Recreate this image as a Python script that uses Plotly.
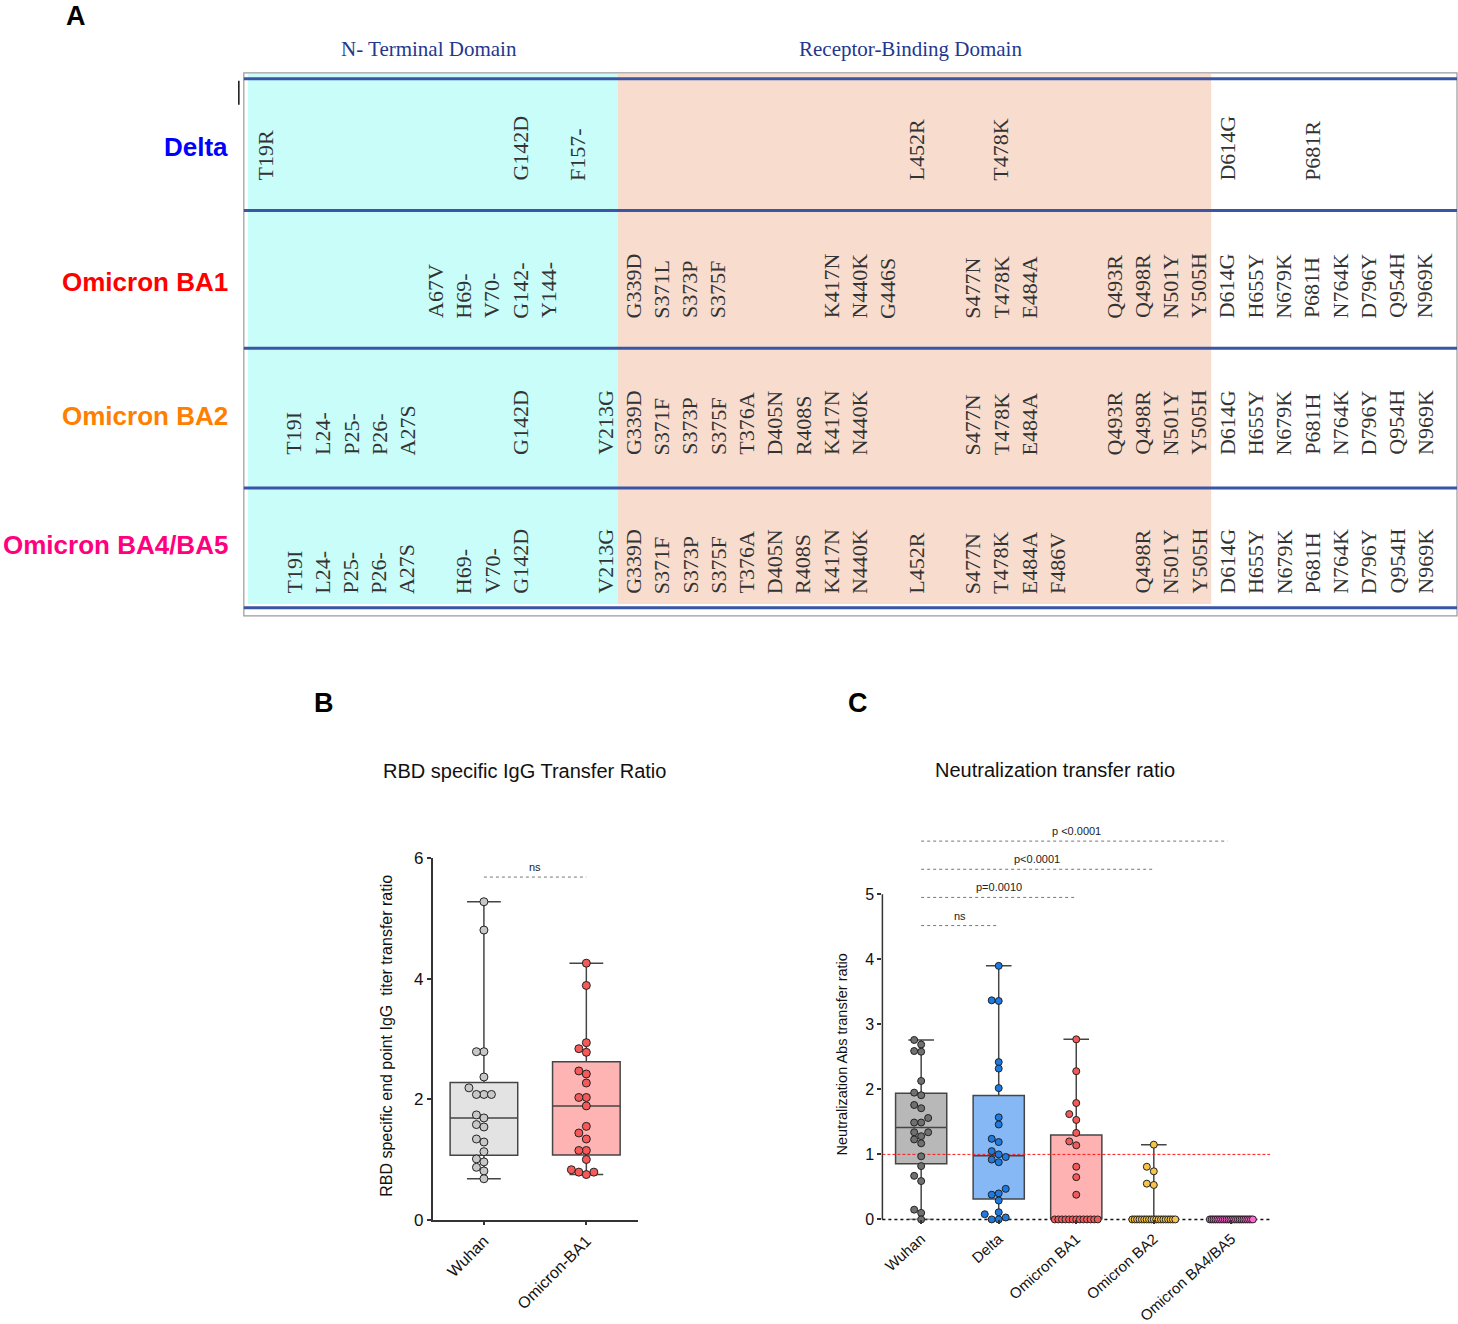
import re
import numpy as np
import plotly.graph_objects as go

W, H = 1458, 1324

# ---------------- Panel A data ----------------
VARIANTS = ["Delta", "Omicron BA1", "Omicron BA2", "Omicron BA4/BA5"]
VARIANT_COLORS = ["#0000ff", "#ff0000", "#ff8000", "#ff007f"]
DOMAINS = ["N- Terminal Domain", "Receptor-Binding Domain"]

MUT_DELTA = ["T19R", "G142D", "F157-", "L452R", "T478K", "D614G", "P681R"]
MUT_BA1 = ["A67V", "H69-", "V70-", "G142-", "Y144-",
           "G339D", "S371L", "S373P", "S375F", "K417N", "N440K", "G446S",
           "S477N", "T478K", "E484A", "Q493R", "Q498R", "N501Y", "Y505H",
           "D614G", "H655Y", "N679K", "P681H", "N764K", "D796Y", "Q954H", "N969K"]
MUT_BA2 = ["T19I", "L24-", "P25-", "P26-", "A27S", "G142D", "V213G",
           "G339D", "S371F", "S373P", "S375F", "T376A", "D405N", "R408S", "K417N", "N440K",
           "S477N", "T478K", "E484A", "Q493R", "Q498R", "N501Y", "Y505H",
           "D614G", "H655Y", "N679K", "P681H", "N764K", "D796Y", "Q954H", "N969K"]
MUT_BA45 = ["T19I", "L24-", "P25-", "P26-", "A27S", "H69-", "V70-", "G142D", "V213G",
            "G339D", "S371F", "S373P", "S375F", "T376A", "D405N", "R408S", "K417N", "N440K",
            "L452R", "S477N", "T478K", "E484A", "F486V", "Q498R", "N501Y", "Y505H",
            "D614G", "H655Y", "N679K", "P681H", "N764K", "D796Y", "Q954H", "N969K"]
MUTATIONS = [MUT_DELTA, MUT_BA1, MUT_BA2, MUT_BA45]

# table column slots (residue keys), in table order
SLOT_KEYS = ["T19R", "19", "24", "25", "26", "27", "67", "69", "70", "142", "144", "157", "213",
             "339", "371", "373", "375", "376", "405", "408", "417", "440", "446", "452", "",
             "477", "478", "484", "486", "", "493", "498", "501", "505",
             "614", "655", "679", "681", "764", "796", "954", "969"]

# ---------------- Panel B data ----------------
B_TITLE = "RBD specific IgG Transfer Ratio"
B_YTITLE = "RBD specific end point IgG  titer transfer ratio"
B_CATS = ["Wuhan", "Omicron-BA1"]
B_WUHAN = [5.28, 4.81, 2.79, 2.79, 2.37, 2.19, 2.08, 2.08, 2.08, 1.74, 1.69,
           1.58, 1.54, 1.34, 1.29, 1.13, 1.01, 0.96, 0.87, 0.81, 0.68]
B_BA1 = [4.26, 3.89, 2.94, 2.84, 2.78, 2.47, 2.42, 2.27, 2.03, 2.03, 1.89,
         1.55, 1.44, 1.34, 1.15, 1.15, 1.00, 0.83, 0.79, 0.79, 0.75]
B_TICKS = [0, 2, 4, 6]
B_TESTS = [("Wuhan", "Omicron-BA1", "ns")]

# ---------------- Panel C data ----------------
C_TITLE = "Neutralization transfer ratio"
C_YTITLE = "Neutralization Abs transfer ratio"
C_CATS = ["Wuhan", "Delta", "Omicron BA1", "Omicron BA2", "Omicron BA4/BA5"]
C_WUHAN = [2.76, 2.69, 2.59, 2.58, 2.13, 1.95, 1.91, 1.76, 1.71, 1.56, 1.49, 1.49,
           1.34, 1.34, 1.28, 1.23, 1.17, 0.97, 0.82, 0.67, 0.59, 0.15, 0.10, 0.00]
C_DELTA = [3.90, 3.37, 3.36, 2.42, 2.32, 2.02, 1.57, 1.46, 1.24, 1.19, 1.05, 1.00,
           0.96, 0.92, 0.88, 0.47, 0.40, 0.38, 0.29, 0.11, 0.08, 0.03, 0.00, 0.00]
C_BA1 = [2.77, 2.28, 1.79, 1.62, 1.53, 1.33, 1.20, 1.14, 0.81, 0.65, 0.38,
         0.00, 0.00, 0.00, 0.00, 0.00, 0.00, 0.00, 0.00, 0.00, 0.00, 0.00, 0.00, 0.00]
C_BA2 = [1.15, 0.81, 0.74, 0.55, 0.53,
         0.00, 0.00, 0.00, 0.00, 0.00, 0.00, 0.00, 0.00, 0.00, 0.00,
         0.00, 0.00, 0.00, 0.00, 0.00, 0.00, 0.00, 0.00, 0.00]
C_BA45 = [0.00, 0.00, 0.00, 0.00, 0.00, 0.00, 0.00, 0.00, 0.00, 0.00, 0.00, 0.00,
          0.00, 0.00, 0.00, 0.00, 0.00, 0.00, 0.00, 0.00, 0.00, 0.00, 0.00, 0.00]
C_TICKS = [0, 1, 2, 3, 4, 5]
C_THRESHOLD = 1.0
C_TESTS = [("Wuhan", "Delta", "ns"), ("Wuhan", "Omicron BA1", "p=0.0010"),
           ("Wuhan", "Omicron BA2", "p<0.0001"), ("Wuhan", "Omicron BA4/BA5", "p <0.0001")]

# ---------------- styling / layout ----------------
SANS = "Liberation Sans, Arial, sans-serif"
SERIF = "Liberation Serif, Times New Roman, serif"
BOX_LINE = "#454545"
B_FILL = ["#e3e3e3", "#ffb4b4"]
B_DOT = ["#c8c8c8", "#f45a5a"]
C_FILL = ["#b8b8b8", "#85b8f5", "#ffb2b2", "#ffd88a", "#ffa8e6"]
C_DOT = ["#707070", "#1f7ae0", "#f25a5a", "#f7c44a", "#ff66d2"]

# vertical calibration of the capture (observed offset / scale of the rendered page)
YOFF, YSCALE = 8.0, 0.986


def PX(x):
    return x / W


def PY(y):
    return 1 - ((y - YOFF) / YSCALE) / H


B_XDOM = [PX(432), PX(637)]
B_YDOM = [PY(1221), PY(859)]
B_YMAX = 6.0
C_XDOM = [PX(882), PX(1270)]
C_YDOM = [PY(1220.7), PY(829.9)]
C_YMAX = 6.0
BOX_W = 0.66


def stats(v):
    a = np.sort(np.asarray(v, float))
    q1, med, q3 = np.percentile(a, [25, 50, 75], method="weibull")
    return q1, med, q3, a.min(), a.max()


def swarm(vals, ypx, xpx, d, tie_span):
    vals = np.asarray(vals, float)
    n = len(vals)
    offs = np.zeros(n)
    placed = []
    done = np.zeros(n, bool)
    uniq, counts = np.unique(vals, return_counts=True)
    for u, c in zip(uniq, counts):
        if c >= 5:
            idx = np.where(vals == u)[0]
            span = min((c - 1) * d, tie_span)
            pos = np.linspace(-span / 2, span / 2, c)
            for i, p in zip(idx, pos):
                offs[i] = p
                placed.append((p, u * ypx))
                done[i] = True
    cands = [0.0]
    for m in range(1, 12):
        cands += [-m * d, m * d]
    for i in np.argsort(vals, kind="stable"):
        if done[i]:
            continue
        y = vals[i] * ypx
        chosen = cands[-1]
        for c in cands:
            if all((c - px) ** 2 + (y - py) ** 2 >= (0.92 * d) ** 2 for px, py in placed):
                chosen = c
                break
        offs[i] = chosen
        placed.append((chosen, y))
    return offs / xpx


fig = go.Figure()

# ---------------- Panel B traces ----------------
b_xpx = (637 - 432) / len(B_CATS)
b_ypx = (1221 - 859) / B_YMAX
for i, vals in enumerate([B_WUHAN, B_BA1]):
    q1, med, q3, mn, mx = stats(vals)
    fig.add_trace(go.Box(x=[i], q1=[q1], median=[med], q3=[q3], lowerfence=[mn], upperfence=[mx],
                         orientation="v", width=BOX_W, whiskerwidth=0.5, fillcolor=B_FILL[i],
                         line=dict(color=BOX_LINE, width=1.5), boxpoints=False,
                         xaxis="x", yaxis="y", hoverinfo="skip", showlegend=False))
    offs = swarm(vals, b_ypx, b_xpx, 7.5, 45)
    fig.add_trace(go.Scatter(x=i + offs, y=vals, mode="markers", cliponaxis=False,
                             marker=dict(size=8, color=B_DOT[i], line=dict(color="#222222", width=1)),
                             xaxis="x", yaxis="y", hoverinfo="skip", showlegend=False))

# ---------------- Panel C traces ----------------
c_xpx = (1270 - 882) / len(C_CATS)
c_ypx = (1220.7 - 829.9) / C_YMAX
C_GROUPS = [C_WUHAN, C_DELTA, C_BA1, C_BA2, C_BA45]
for i, vals in enumerate(C_GROUPS):
    q1, med, q3, mn, mx = stats(vals)
    fig.add_trace(go.Box(x=[i], q1=[q1], median=[med], q3=[q3], lowerfence=[mn], upperfence=[mx],
                         orientation="v", width=BOX_W, whiskerwidth=0.5, fillcolor=C_FILL[i],
                         line=dict(color=BOX_LINE, width=1.5), boxpoints=False,
                         xaxis="x2", yaxis="y2", hoverinfo="skip", showlegend=False))
c_range = [-0.5, len(C_CATS) - 0.5]
fig.add_trace(go.Scatter(x=c_range, y=[C_THRESHOLD, C_THRESHOLD], mode="lines",
                         line=dict(color="#ff1a1a", width=1, dash="3px,2px"),
                         xaxis="x2", yaxis="y2", hoverinfo="skip", showlegend=False))
for i, vals in enumerate(C_GROUPS):
    offs = swarm(vals, c_ypx, c_xpx, 7.0, 43)
    fig.add_trace(go.Scatter(x=i + offs, y=vals, mode="markers", cliponaxis=False,
                             marker=dict(size=7, color=C_DOT[i], line=dict(color="#222222", width=1)),
                             xaxis="x2", yaxis="y2", hoverinfo="skip", showlegend=False))

shapes = []
annotations = []

# ---------------- Panel A drawing ----------------
TABLE = dict(left=243, right=1457, top=72, bottom=616)
DOMAIN_SPANS = [(247, 617), (617, 1211)]
DOMAIN_FILLS = ["#c8fdf9", "#f8ddcf"]
ROW_LINES = [78, 210, 348, 488, 608]
ROW_TEXT_BOTTOM = [181, 319, 456, 595]
ROW_LABEL_Y = [146, 282, 416, 545]
COL0, COLSTEP = 265, 28.3

for (x0, x1), col in zip(DOMAIN_SPANS, DOMAIN_FILLS):
    shapes.append(dict(type="rect", xref="paper", yref="paper", x0=PX(x0), x1=PX(x1),
                       y0=PY(73), y1=PY(604), fillcolor=col, line=dict(width=0), layer="below"))
shapes.append(dict(type="rect", xref="paper", yref="paper", x0=PX(TABLE["left"]), x1=PX(TABLE["right"]),
                   y0=PY(TABLE["top"]), y1=PY(TABLE["bottom"]), line=dict(color="#9a9a9a", width=1.2)))
for yl in ROW_LINES:
    shapes.append(dict(type="line", xref="paper", yref="paper", x0=PX(TABLE["left"]), x1=PX(TABLE["right"]),
                       y0=PY(yl), y1=PY(yl), line=dict(color="#3b55a6", width=3)))
shapes.append(dict(type="line", xref="paper", yref="paper", x0=PX(238), x1=PX(238),
                   y0=PY(80), y1=PY(104), line=dict(color="#111111", width=1.5)))

for (x0, x1), name in zip(DOMAIN_SPANS, DOMAINS):
    annotations.append(dict(text=name, xref="paper", yref="paper", x=PX((x0 + x1) / 2 - 4), y=PY(48),
                            showarrow=False, xanchor="center", yanchor="middle",
                            font=dict(family=SERIF, size=21, color="#233790")))


def slot_of(label):
    if label in SLOT_KEYS:
        return SLOT_KEYS.index(label)
    return SLOT_KEYS.index(re.search(r"\d+", label).group())


for r, (muts, name, colr) in enumerate(zip(MUTATIONS, VARIANTS, VARIANT_COLORS)):
    annotations.append(dict(text=name, xref="paper", yref="paper", x=PX(229), y=PY(ROW_LABEL_Y[r]),
                            showarrow=False, xanchor="right", yanchor="middle",
                            font=dict(family=SANS, size=26, color=colr, weight="bold")))
    for m in muts:
        xc = COL0 + COLSTEP * slot_of(m)
        annotations.append(dict(text=m, xref="paper", yref="paper", x=PX(xc), y=PY(ROW_TEXT_BOTTOM[r]),
                                showarrow=False, textangle=-90, xanchor="center", yanchor="bottom",
                                borderpad=0, font=dict(family=SERIF, size=22, color="#333333")))

# panel letters
for letter, (lx, ly) in zip(["A", "B", "C"], [(75, 15), (323, 703), (858, 703)]):
    annotations.append(dict(text=letter, xref="paper", yref="paper", x=PX(lx), y=PY(ly), showarrow=False,
                            xanchor="center", yanchor="middle",
                            font=dict(family=SANS, size=27, color="#000000", weight="bold")))

# titles
annotations.append(dict(text=B_TITLE, xref="paper", yref="paper", x=PX(524), y=PY(771), showarrow=False,
                        xanchor="center", yanchor="middle", font=dict(family=SANS, size=20, color="#111")))
annotations.append(dict(text=C_TITLE, xref="paper", yref="paper", x=PX(1055), y=PY(770), showarrow=False,
                        xanchor="center", yanchor="middle", font=dict(family=SANS, size=20, color="#111")))
annotations.append(dict(text=B_YTITLE, xref="paper", yref="paper", x=PX(385), y=PY(1037), showarrow=False,
                        textangle=-90, xanchor="center", yanchor="middle",
                        font=dict(family=SANS, size=16, color="#111")))
annotations.append(dict(text=C_YTITLE, xref="paper", yref="paper", x=PX(842), y=PY(1055), showarrow=False,
                        textangle=-90, xanchor="center", yanchor="middle",
                        font=dict(family=SANS, size=14.5, color="#111")))

# significance bars
SIG_STYLE = dict(color="#777777", width=1, dash="dot")
for k, (a, b, lab) in enumerate(B_TESTS):
    ia, ib = B_CATS.index(a), B_CATS.index(b)
    h = 5.69 + 0.45 * k
    shapes.append(dict(type="line", xref="x", yref="y", x0=ia, x1=ib, y0=h, y1=h, line=SIG_STYLE))
    annotations.append(dict(text=lab, xref="x", yref="y", x=(ia + ib) / 2, y=h, yanchor="bottom",
                            yshift=2, showarrow=False, font=dict(family=SANS, size=11, color="#222")))
for k, (a, b, lab) in enumerate(C_TESTS):
    ia, ib = C_CATS.index(a), C_CATS.index(b)
    h = 4.52 + 0.433 * k
    shapes.append(dict(type="line", xref="x2", yref="y2", x0=ia, x1=ib - 0.05 * (ib == len(C_CATS) - 1),
                       y0=h, y1=h, line=SIG_STYLE))
    annotations.append(dict(text=lab, xref="x2", yref="y2", x=(ia + ib) / 2, y=h, yanchor="bottom",
                            yshift=2, showarrow=False, font=dict(family=SANS, size=11, color="#222")))

# panel C axis lines (solid y up to top tick, dotted x baseline)
c_top = C_YDOM[0] + (C_TICKS[-1] / C_YMAX) * (C_YDOM[1] - C_YDOM[0])
shapes.append(dict(type="line", xref="paper", yref="paper", x0=C_XDOM[0], x1=C_XDOM[0],
                   y0=C_YDOM[0], y1=c_top, line=dict(color="#333333", width=1.5), layer="below"))
shapes.append(dict(type="line", xref="paper", yref="paper", x0=C_XDOM[0], x1=C_XDOM[1],
                   y0=C_YDOM[0], y1=C_YDOM[0], line=dict(color="#111111", width=1.5, dash="dot"),
                   layer="below"))

axis_common = dict(showgrid=False, zeroline=False, fixedrange=True, ticks="outside", ticklen=4,
                   tickwidth=1.5, tickcolor="#333333")

fig.update_layout(
    width=W, height=H, margin=dict(l=0, r=0, t=0, b=0),
    paper_bgcolor="white", plot_bgcolor="rgba(0,0,0,0)", showlegend=False,
    shapes=shapes, annotations=annotations,
    xaxis=dict(domain=B_XDOM, range=[-0.5, len(B_CATS) - 0.5], anchor="y",
               tickvals=list(range(len(B_CATS))), ticktext=B_CATS, tickangle=-45,
               showline=True, linecolor="#333333", linewidth=1.5,
               tickfont=dict(family=SANS, size=16, color="#111"), **axis_common),
    yaxis=dict(domain=B_YDOM, range=[0, B_YMAX], anchor="x", tickvals=B_TICKS,
               showline=True, linecolor="#333333", linewidth=1.5,
               tickfont=dict(family=SANS, size=17, color="#111"), **axis_common),
    xaxis2=dict(domain=C_XDOM, range=c_range, anchor="y2",
                tickvals=list(range(len(C_CATS))), ticktext=C_CATS, tickangle=-42,
                showline=False, tickfont=dict(family=SANS, size=15, color="#111"), **axis_common),
    yaxis2=dict(domain=C_YDOM, range=[0, C_YMAX], anchor="x2", tickvals=C_TICKS,
                showline=False, tickfont=dict(family=SANS, size=16, color="#111"), **axis_common),
)

PAGE_FIX = (
    "document.documentElement.style.margin='0';document.documentElement.style.padding='0';"
    "document.documentElement.style.overflow='hidden';"
    "document.body.style.margin='0';document.body.style.padding='0';document.body.style.overflow='hidden';"
    "var gd=document.getElementsByClassName('plotly-graph-div')[0];"
    "gd.style.position='absolute';gd.style.top='0px';gd.style.left='0px';"
)

fig.write_html("out.html", config={"displayModeBar": False}, post_script=PAGE_FIX)
